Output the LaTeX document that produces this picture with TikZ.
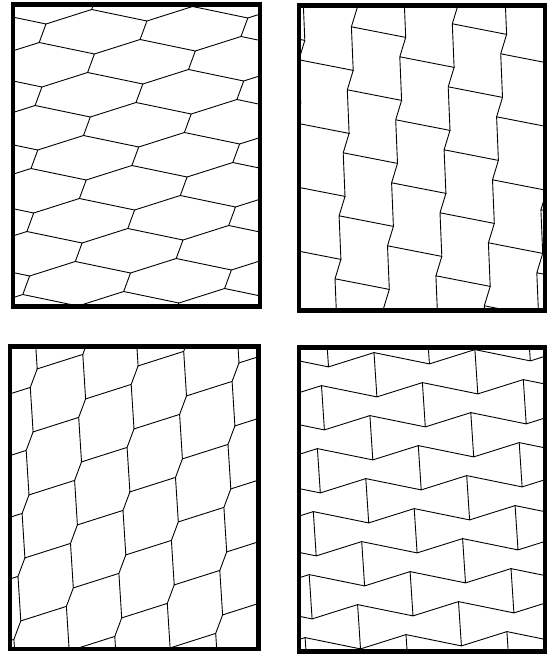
\documentclass[tikz,border=0pt]{standalone}
\begin{document}
\begin{tikzpicture}[x=1pt,y=-1pt,
  cell/.style={line width=0.9pt,line cap=round,line join=miter},
  frame/.style={line width=4.6pt,line join=miter}]
\useasboundingbox (0,0) rectangle (547,655);
\fill[white] (0,0) rectangle (547,655);
% ---------- panel 1 (top left)
\begin{scope}
\clip (13,4.7) rectangle (260,306.3);
\foreach \i in {-4,...,8}{\foreach \j in {-7,...,8}{
  \pgfmathsetmacro\qx{94.4+48.4*\i-4.1*\j}
  \pgfmathsetmacro\qy{54+30*\i+63*\j}
  \draw[cell] (\qx,\qy) -- ++(-55.2,-11.5) (\qx,\qy) -- ++(45.7,-14.5) (\qx,\qy) -- ++(-6.8,18.5);
}}
\end{scope}
% ---------- panel 2 (top right)
\begin{scope}
\clip (299,5.3) rectangle (545,310.5);
\foreach \i in {-4,...,8}{\foreach \j in {-7,...,8}{
  \pgfmathsetmacro\qx{351.4+48.4*\i-4.1*\j}
  \pgfmathsetmacro\qy{26.8+30*\i+63*\j}
  \draw[cell] (\qx,\qy) -- ++(5.9,-19.4) (\qx,\qy) -- ++(1.8,43.6) (\qx,\qy) -- ++(54.3,10.6);
}}
\end{scope}
% ---------- panel 3 (bottom left)
\begin{scope}
\clip (9.8,346.7) rectangle (258.3,649);
\foreach \i in {-4,...,8}{\foreach \j in {-7,...,8}{
  \pgfmathsetmacro\qx{82.8+48.4*\i-4.1*\j}
  \pgfmathsetmacro\qy{354.4+30*\i+63*\j}
  \draw[cell] (\qx,\qy) -- ++(6.9,-18.5) (\qx,\qy) -- ++(2.8,44.5) (\qx,\qy) -- ++(-45.6,14.5);
}}
\end{scope}
% ---------- panel 4 (bottom right)
\begin{scope}
\clip (299,347.5) rectangle (545,651.7);
\foreach \i in {-4,...,8}{\foreach \j in {-7,...,8}{
  \pgfmathsetmacro\qx{376.9+48.4*\i-4.1*\j}
  \pgfmathsetmacro\qy{396.9+30*\i+63*\j}
  \draw[cell] (\qx,\qy) -- ++(45.5,-14.3) (\qx,\qy) -- ++(-55.4,-11.3) (\qx,\qy) -- ++(-2.9,-44.3);
}}
\end{scope}
% ---------- frames
\draw[frame] (13,4.7) rectangle (260,306.3);
\draw[frame] (299,5.3) rectangle (545,310.5);
\draw[frame] (9.8,346.7) rectangle (258.3,649);
\draw[frame] (299,347.5) rectangle (545,651.7);
\end{tikzpicture}
\end{document}
